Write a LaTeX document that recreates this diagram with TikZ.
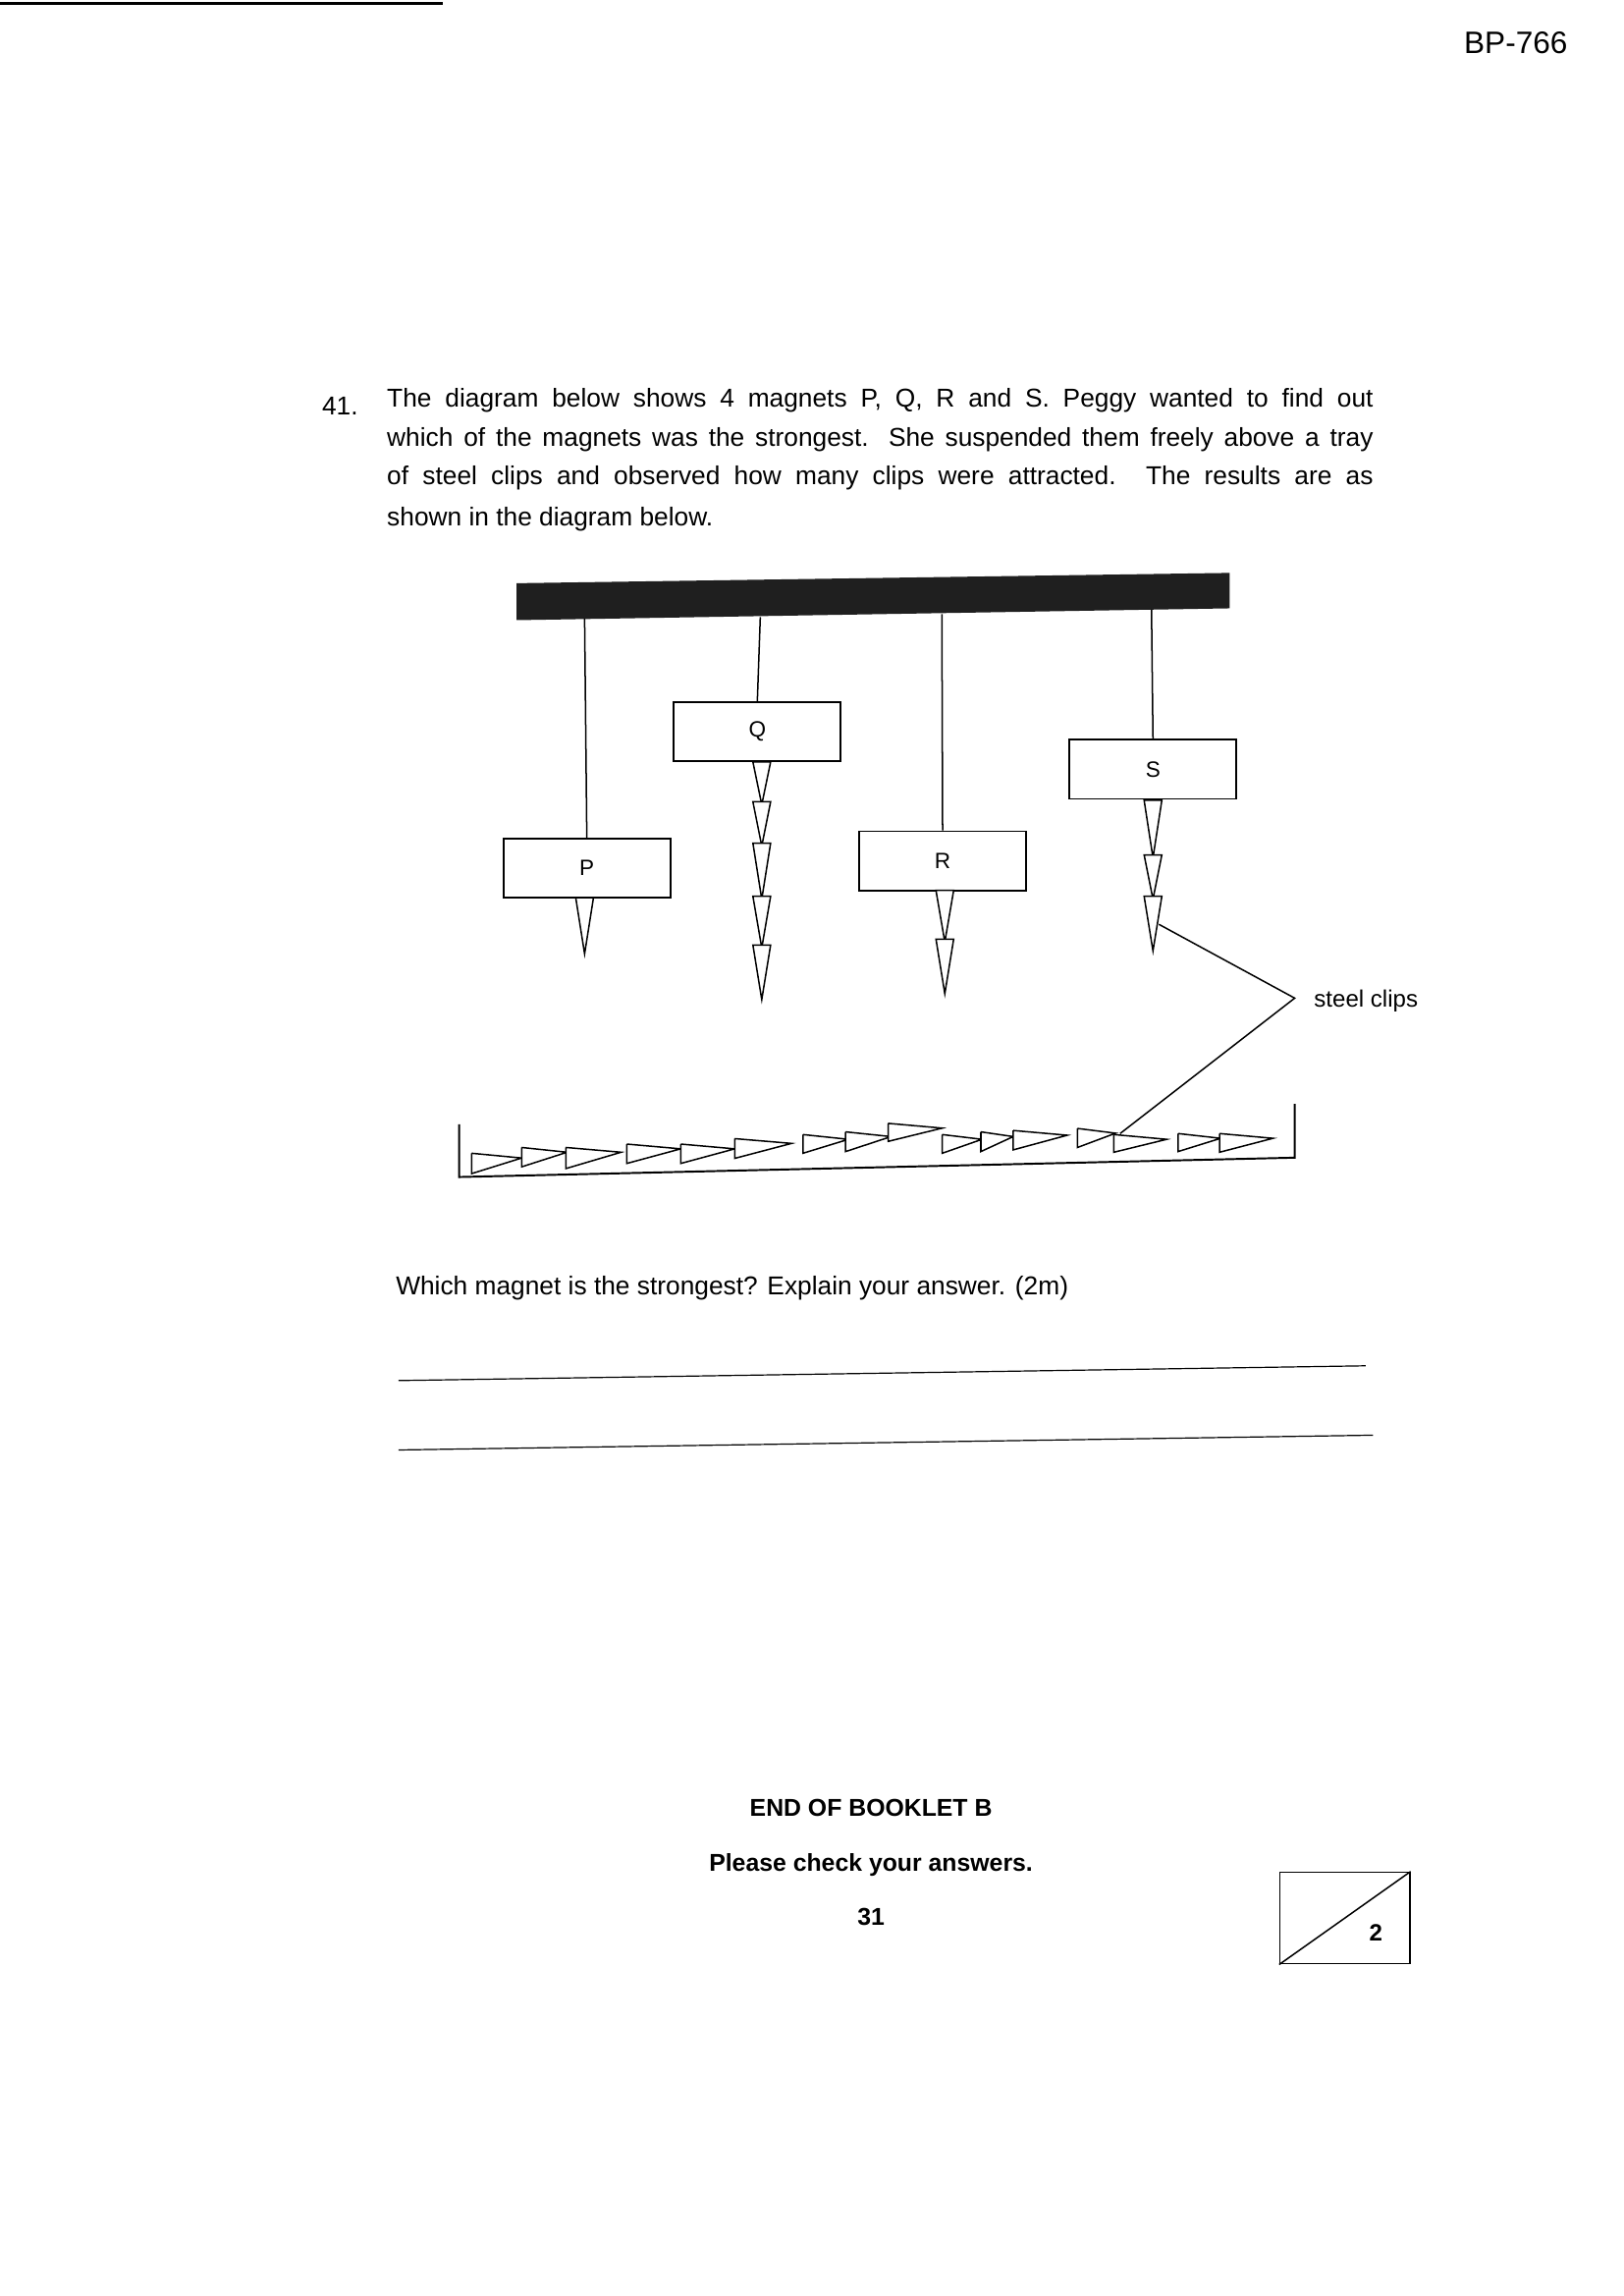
\documentclass[tikz,border=0pt]{standalone}
\usepackage{fontspec}
\setmainfont{Liberation Sans}
\newcommand\vclip[3]{\draw[clip line] (#1-6,#2)--(#1+6,#2)--(#1,#3)--cycle;}
\newcommand\hclip[4]{\draw[clip line] (#1,#3)--(#1,#4)--(#2,#3+14)--(#1,#3);}
\begin{document}
\begin{tikzpicture}[x=1pt,y=-1pt,
  mag/.style={draw,line width=1.2pt,minimum width=113pt,minimum height=40pt,inner sep=0pt,font=\fontsize{15}{15}\selectfont},
  clip line/.style={line width=1pt,fill=white},
  txt/.style={anchor=base west,inner sep=0pt,font=\fontsize{17.5}{20}\selectfont},
  bold/.style={anchor=base,inner sep=0pt,font=\bfseries\fontsize{16.5}{20}\selectfont}]
\useasboundingbox[fill=white] (0,0) rectangle (1100,1555);
\draw[line width=2pt] (0,2)--(300,2);
\node[anchor=base east,inner sep=0pt,font=\fontsize{21}{21}\selectfont] (code) at (1062,36) {BP-766};
% question
\node[txt] (num) at (218,281) {41.};
\node[txt] (l1) at (262,276) {\makebox[668pt][s]{The diagram below shows 4 magnets P, Q, R and S. Peggy wanted to find out}};
\node[txt] (l2) at (262,302) {\makebox[668pt][s]{which of the magnets was the strongest. She suspended them freely above a tray}};
\node[txt] (l3) at (262,328) {\makebox[668pt][s]{of steel clips and observed how many clips were attracted. The results are as}};
\node[txt] (l4) at (262,356) {shown in the diagram below.};
% bar
\fill[black!88] (350,395)--(833,388)--(833,412)--(350,420)--cycle;
\coordinate (tp) at (396,419);
\coordinate (tq) at (515,418);
\coordinate (tr) at (638,416);
\coordinate (ts) at (780,413);
% magnets
\node[mag] (P) at (397.5,588) {P};
\node[mag] (Q) at (513,495.5) {Q};
\node[mag] (R) at (638.5,583) {R};
\node[mag] (S) at (781,521) {S};
\draw[line width=1pt] (tp)--(P.north);
\draw[line width=1pt] (tq)--(Q.north);
\draw[line width=1pt] (tr)--(R.north);
\draw[line width=1pt] (ts)--(S.north);
% hanging clips
\vclip{396}{608}{646}
\vclip{516}{516}{545}\vclip{516}{543}{573}\vclip{516}{571}{609}\vclip{516}{607}{642}\vclip{516}{640}{677}
\vclip{640}{603}{638}\vclip{640}{636}{673}
\vclip{781}{542}{581}\vclip{781}{579}{609}\vclip{781}{607}{644}
% tray
\begin{scope}[shift={(295.6,731.6)},xscale=0.385,yscale=0.23]
\draw[line width=1.3pt] (40,130)--(40,285)--(1510,228)--(1510,70);
\hclip{62}{150}{215}{275}
\hclip{150}{230}{198}{255}
\hclip{228}{325}{198}{260}
\hclip{335}{430}{188}{245}
\hclip{430}{525}{188}{245}
\hclip{525}{625}{172}{230}
\hclip{645}{725}{160}{215}
\hclip{720}{800}{152}{210}
\hclip{795}{890}{127}{180}
\hclip{890}{960}{160}{215}
\hclip{958}{1015}{152}{210}
\hclip{1015}{1110}{148}{205}
\hclip{1128}{1195}{142}{198}
\hclip{1192}{1285}{160}{212}
\hclip{1305}{1380}{157}{210}
\hclip{1378}{1472}{157}{212}
\coordinate (trayclip) at (1203,157);
\end{scope}
% leader
\coordinate (sclip) at (785,626);
\coordinate (bend) at (877,676);
\draw[line width=1pt] (sclip)--(bend)--(trayclip);
\node[anchor=base west,inner sep=0pt,font=\fontsize{16}{16}\selectfont] (lab) at (890,682) {steel clips};
% question 2
\node[txt] (ask) at (268,877) {Which magnet is the strongest? Explain your answer. (2m)};
\coordinate (a1) at (270,935); \coordinate (a2) at (925,925);
\coordinate (b1) at (270,982); \coordinate (b2) at (930,972);
\draw[line width=0.8pt] (a1)--(a2);
\draw[line width=0.8pt] (b1)--(b2);
% footer
\node[bold] (end) at (590,1230) {END OF BOOKLET B};
\node[bold] (chk) at (590,1267) {Please check your answers.};
\node[bold] (pg) at (590,1304) {31};
\node[draw,line width=1pt,minimum width=88pt,minimum height=62pt,inner sep=0pt] (box) at (911,1299) {};
\draw[line width=1pt] (box.south west)--(box.north east);
\node[inner sep=0pt,font=\bfseries\fontsize{16}{16}\selectfont] (two) at (932,1309) {2};
\end{tikzpicture}
\end{document}
